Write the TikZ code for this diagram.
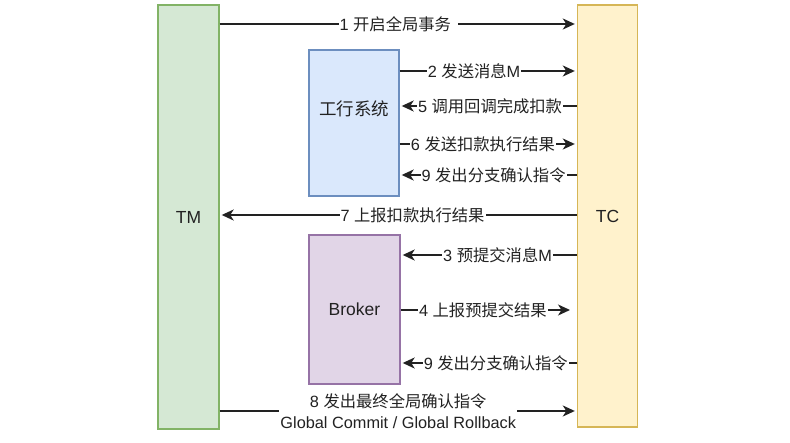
\documentclass[tikz,border=0pt]{standalone}
\usepackage{fontspec}
\setmainfont{Liberation Sans}
\newfontfamily\cjk{Noto Sans CJK SC}
\usetikzlibrary{arrows.meta}
\definecolor{tmfill}{HTML}{D5E8D4}\definecolor{tmline}{HTML}{82B366}
\definecolor{tcfill}{HTML}{FFF2CC}\definecolor{tcline}{HTML}{D6B656}
\definecolor{ghfill}{HTML}{DAE8FC}\definecolor{ghline}{HTML}{6C8EBF}
\definecolor{brfill}{HTML}{E1D5E7}\definecolor{brline}{HTML}{9673A6}
\definecolor{txt}{HTML}{222222}
\begin{document}
\begin{tikzpicture}[x=1pt,y=-1pt,
  box/.style={draw, line width=1.4pt, inner sep=0pt, font=\fontsize{17.5}{20}\selectfont, text=txt},
  arr/.style={line width=1.6pt, draw=txt, shorten >=2pt, -{Stealth[length=12pt,width=11pt,inset=3.5pt]}},
  lbl/.style={fill=white, inner xsep=1pt, inner ysep=1pt, font=\fontsize{16.3}{20.5}\selectfont, text=txt, align=center}]
\useasboundingbox (0,0) rectangle (790,443);
\node[box, fill=tmfill, draw=tmline, minimum width=61pt, minimum height=424pt] (tm) at (188.5,217) {TM};
\node[box, fill=tcfill, draw=tcline, minimum width=60pt, minimum height=422pt] (tc) at (607.5,216) {TC};
\node[box, fill=ghfill, draw=ghline, minimum width=90pt, minimum height=146pt,
  label={[font=\fontsize{17.5}{20}\selectfont\cjk, text=txt, yshift=14pt]center:工行系统}] (gh) at (354,123) {};
\node[box, fill=brfill, draw=brline, minimum width=91pt, minimum height=149pt] (br) at (354.5,309.5) {Broker};
\coordinate (e4) at (572,310);
% 1
\draw[arr] (tm.east |- 0,24) -- node[lbl, pos=0.5] {1 {\cjk 开启全局事务}\hspace{6pt}} (tc.west |- 0,24);
% 2
\draw[arr] (gh.east |- 0,71) -- node[lbl, pos=0.42] {2 {\cjk 发送消息}M} (tc.west |- 0,71);
% 5
\draw[arr] (tc.west |- 0,106) -- node[lbl, pos=0.49] {5 {\cjk 调用回调完成扣款}} (gh.east |- 0,106);
% 6
\draw[arr] (gh.east |- 0,144) -- node[lbl, pos=0.47] {6 {\cjk 发送扣款执行结果}} (tc.west |- 0,144);
% 9a
\draw[arr] (tc.west |- 0,175) -- node[lbl, pos=0.47] {9 {\cjk 发出分支确认指令}} (gh.east |- 0,175);
% 7
\draw[arr] (tc.west |- 0,215) -- node[lbl, pos=0.46] {7 {\cjk 上报扣款执行结果}} (tm.east |- 0,215);
% 3
\draw[arr] (tc.west |- 0,255) -- node[lbl, pos=0.45] {3 {\cjk 预提交消息}M} (br.east |- 0,255);
% 4
\draw[arr] (br.east |- e4) -- node[lbl, pos=0.48] {4 {\cjk 上报预提交结果}} (e4);
% 9b
\draw[arr] (tc.west |- 0,363) -- node[lbl, pos=0.46] {9 {\cjk 发出分支确认指令}} (br.east |- 0,363);
% 8
\draw[arr] (tm.east |- 0,411) -- node[lbl, pos=0.5] {8 {\cjk 发出最终全局确认指令}\\Global Commit / Global Rollback} (tc.west |- 0,411);
\end{tikzpicture}
\end{document}
